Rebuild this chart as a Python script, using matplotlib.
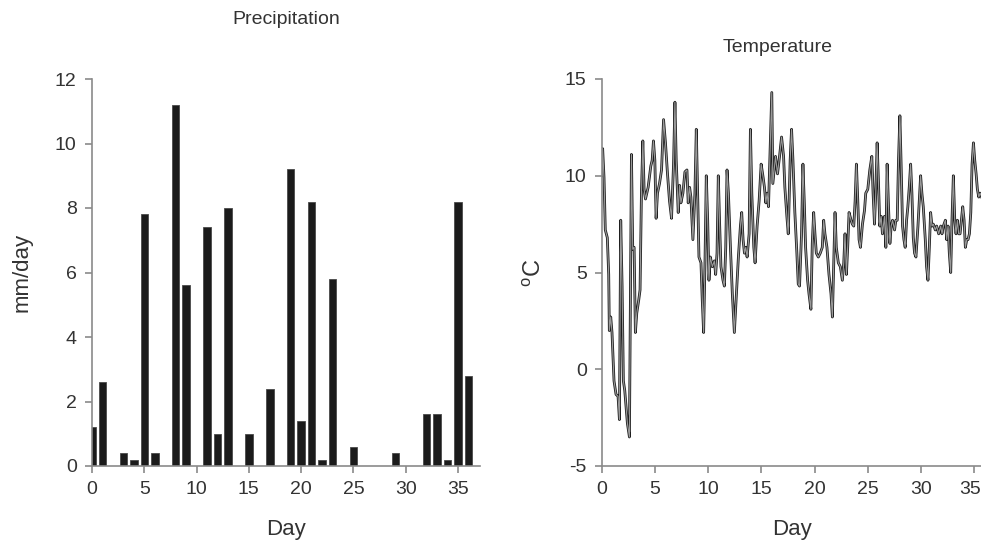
"""
Precipitation bars and temperature trace, two panels side by side.
"""

import matplotlib
matplotlib.use("Agg")
import matplotlib.pyplot as plt
from matplotlib.transforms import ScaledTranslation

plt.rcParams["font.family"] = ["Liberation Sans", "DejaVu Sans"]
plt.rcParams["axes.unicode_minus"] = False

# =============================================================================
# Data
# =============================================================================

precip_day = [0, 1, 3, 4, 5, 6, 8, 9, 11, 12, 13, 15, 17, 19, 20, 21, 22,
              23, 25, 29, 32, 33, 34, 35, 36]
precip_mm = [1.2, 2.6, 0.4, 0.2, 7.8, 0.4, 11.2, 5.6, 7.4, 1.0, 8.0, 1.0,
             2.4, 9.2, 1.4, 8.2, 0.2, 5.8, 0.6, 0.4, 1.6, 1.6, 0.2, 8.2, 2.8]

temp_day = [
    0.00, 0.06, 0.19, 0.31, 0.50, 0.63, 0.69, 0.82, 0.94, 1.13, 1.32, 1.51,
    1.64, 1.76, 1.89, 2.01, 2.14, 2.39, 2.58, 2.77, 2.89, 3.02, 3.14, 3.27,
    3.46, 3.58, 3.71, 3.84, 3.96, 4.09, 4.21, 4.34, 4.59, 4.72, 4.84, 4.97,
    5.09, 5.22, 5.41, 5.60, 5.79, 5.97, 6.16, 6.35, 6.54, 6.73, 6.86, 6.98,
    7.17, 7.30, 7.42, 7.61, 7.80, 7.99, 8.11, 8.24, 8.36, 8.55, 8.74, 8.87,
    8.99, 9.12, 9.31, 9.43, 9.56, 9.69, 9.81, 9.94, 10.06, 10.19, 10.38,
    10.57, 10.69, 10.82, 10.94, 11.07, 11.19, 11.38, 11.51, 11.64, 11.76,
    11.89, 12.08, 12.26, 12.45, 12.64, 12.83, 13.02, 13.14, 13.27, 13.40,
    13.52, 13.65, 13.84, 13.96, 14.09, 14.28, 14.40, 14.59, 14.78, 14.97,
    15.16, 15.28, 15.41, 15.53, 15.66, 15.85, 15.97,
    16.07, 16.32, 16.51, 16.70, 16.89, 17.08, 17.20, 17.39, 17.52, 17.70,
    17.83, 17.96, 18.14, 18.33, 18.46, 18.58, 18.77, 18.90, 19.03, 19.15,
    19.34, 19.47, 19.65, 19.78, 19.91, 20.03, 20.16, 20.35, 20.53, 20.72,
    20.85, 20.97, 21.16, 21.35, 21.54, 21.67, 21.79, 21.92, 22.04, 22.23,
    22.42, 22.61, 22.74, 22.86, 22.99, 23.11, 23.24, 23.43, 23.55, 23.68,
    23.81, 23.93, 24.06, 24.18, 24.31, 24.50, 24.69, 24.81, 25.00, 25.19,
    25.38, 25.50, 25.63, 25.75, 25.88, 26.01, 26.13, 26.26, 26.38, 26.57,
    26.70, 26.82, 26.95, 27.08, 27.20, 27.33, 27.52, 27.64, 27.77, 27.89,
    28.02, 28.14, 28.27, 28.40, 28.52, 28.65, 28.77, 28.90, 29.03, 29.15,
    29.28, 29.40, 29.53, 29.72, 29.84, 29.97, 30.09, 30.22, 30.41, 30.53,
    30.66, 30.79, 30.91, 31.04, 31.16, 31.35, 31.48, 31.67, 31.86, 31.98,
    32.11, 32.30, 32.42, 32.55, 32.67, 32.80, 32.92, 33.05, 33.18, 33.30,
    33.43, 33.55, 33.68, 33.81, 33.93, 34.06, 34.18, 34.31, 34.43, 34.56,
    34.69, 34.81, 34.94, 35.06, 35.19, 35.31, 35.44, 35.57, 36.00,
]
temp_c = [
    10.0, 11.4, 9.9, 7.2, 6.8, 4.9, 2.0, 2.7, 1.9, -0.6, -1.3, -1.4,
    -2.6, 7.7, 4.3, -0.6, -1.1, -2.8, -3.5, 11.1, 6.2, 6.3, 1.9, 2.9,
    3.6, 4.1, 9.1, 11.8, 9.3, 8.8, 9.1, 9.4, 10.5, 10.8, 11.8, 10.8,
    7.8, 9.1, 9.6, 10.3, 12.9, 11.7, 10.1, 8.7, 7.8, 10.6, 13.8, 10.8,
    8.1, 9.5, 8.6, 9.1, 10.2, 10.3, 8.6, 9.4, 8.9, 6.7, 9.1, 12.4,
    9.1, 5.8, 5.5, 3.6, 1.9, 5.6, 10.0, 7.7, 4.6, 5.8, 5.3,
    5.6, 4.9, 6.0, 10.0, 7.4, 5.3, 4.6, 4.3, 6.3, 10.3,
    9.1, 6.3, 3.9, 1.9, 3.9, 5.8, 7.4, 8.1, 6.7, 6.0,
    6.3, 5.8, 7.0, 12.4, 9.1, 6.3, 5.5, 7.4, 8.7, 10.6,
    9.9, 9.4, 8.6, 9.1, 8.4, 12.0, 14.3,
    9.6, 11.0, 10.1, 11.0, 12.0, 11.0, 9.4, 7.9, 7.0, 10.8,
    12.4, 10.8, 8.1, 6.0, 4.4, 4.3, 7.0, 10.6, 8.6, 6.3,
    4.6, 3.9, 3.1, 6.5, 8.1, 7.0, 6.0, 5.8, 6.0, 6.3,
    7.7, 7.0, 6.3, 4.9, 3.9, 2.7, 5.3, 8.1, 6.3, 5.5,
    5.3, 4.6, 5.5, 7.0, 4.9, 6.3, 8.1, 7.7, 7.5, 7.4,
    8.7, 10.6, 8.7, 6.7, 6.3, 7.5, 8.2, 9.1, 9.3, 10.3,
    11.0, 9.1, 7.5, 9.1, 11.7, 9.6, 7.4, 7.9, 7.0, 7.9,
    6.3, 10.6, 8.4, 6.5, 7.4, 7.7, 7.2, 7.7, 7.7, 10.8,
    13.1, 10.5, 7.4, 6.7, 6.3, 7.7, 8.4, 9.4, 10.6, 9.1,
    6.8, 6.0, 5.8, 7.4, 8.7, 10.0, 9.1, 8.4, 6.7, 5.3,
    4.6, 6.3, 8.1, 7.4, 7.5, 7.2, 7.4, 7.0, 7.4, 7.0,
    7.4, 7.7, 6.7, 7.4, 6.0, 5.0, 7.7, 10.0, 7.7, 7.0,
    7.7, 7.0, 7.0, 7.7, 8.4, 7.7, 6.3, 6.7, 6.7, 7.0,
    8.1, 10.6, 11.7, 10.8, 10.1, 9.3, 8.9, 9.1, 8.5,
]

day_ticks = [0, 5, 10, 15, 20, 25, 30, 35]

TEXT = "#333333"
SPINE = "#8a8a8a"
FS = 14


def style_axes(ax):
    for side in ("top", "right"):
        ax.spines[side].set_visible(False)
    for side in ("left", "bottom"):
        ax.spines[side].set_color(SPINE)
        ax.spines[side].set_linewidth(1.2)
    ax.tick_params(direction="out", length=5, width=1.2, color=SPINE,
                   labelcolor=TEXT, labelsize=FS, pad=6)
    ax.set_xticks(day_ticks)


# =============================================================================
# Figure
# =============================================================================

fig = plt.figure(figsize=(9.81, 5.53), dpi=100)

# --- Precipitation ---
ax1 = fig.add_axes([92 / 981, 87 / 553, 388 / 981, 387 / 553])
ax1.bar(precip_day, precip_mm, width=0.72, color="#1b1b1b",
        edgecolor="#4a4a4a", linewidth=0.6)
ax1.set_xlim(0, 37.1)
ax1.set_ylim(0, 12)
ax1.set_yticks([0, 2, 4, 6, 8, 10, 12])
style_axes(ax1)
ax1.set_xlabel("Day", fontsize=16, color=TEXT, labelpad=15)
ax1.set_ylabel("mm/day", fontsize=16, color=TEXT, labelpad=16)
fig.text(286 / 981, 1 - 20 / 553, "Precipitation", ha="center", va="center",
         fontsize=14, color=TEXT)

# --- Temperature ---
ax2 = fig.add_axes([602 / 981, 87 / 553, 379 / 981, 387 / 553])
ax2.plot(temp_day, temp_c, color="#1e1e1e", linewidth=2.0)
ax2.plot(temp_day, temp_c, color="#9a9a9a", linewidth=0.8)
ax2.set_xlim(0, 35.65)
ax2.set_ylim(-5, 15)
ax2.set_yticks([-5, 0, 5, 10, 15])
style_axes(ax2)
ax2.set_xlabel("Day", fontsize=16, color=TEXT, labelpad=15)
ax2.set_ylabel(r"$^{\mathregular{o}}$C", fontsize=17, color=TEXT, labelpad=14)
fig.text(778 / 981, 1 - 48 / 553, "Temperature", ha="center", va="center",
         fontsize=14, color=TEXT)

# the last day label sits at the figure edge; nudge it inside
last = ax2.get_xticklabels()[-1]
last.set_transform(last.get_transform()
                   + ScaledTranslation(-4 / 100, 0, fig.dpi_scale_trans))

plt.savefig("out.png", dpi=100)
plt.close()
